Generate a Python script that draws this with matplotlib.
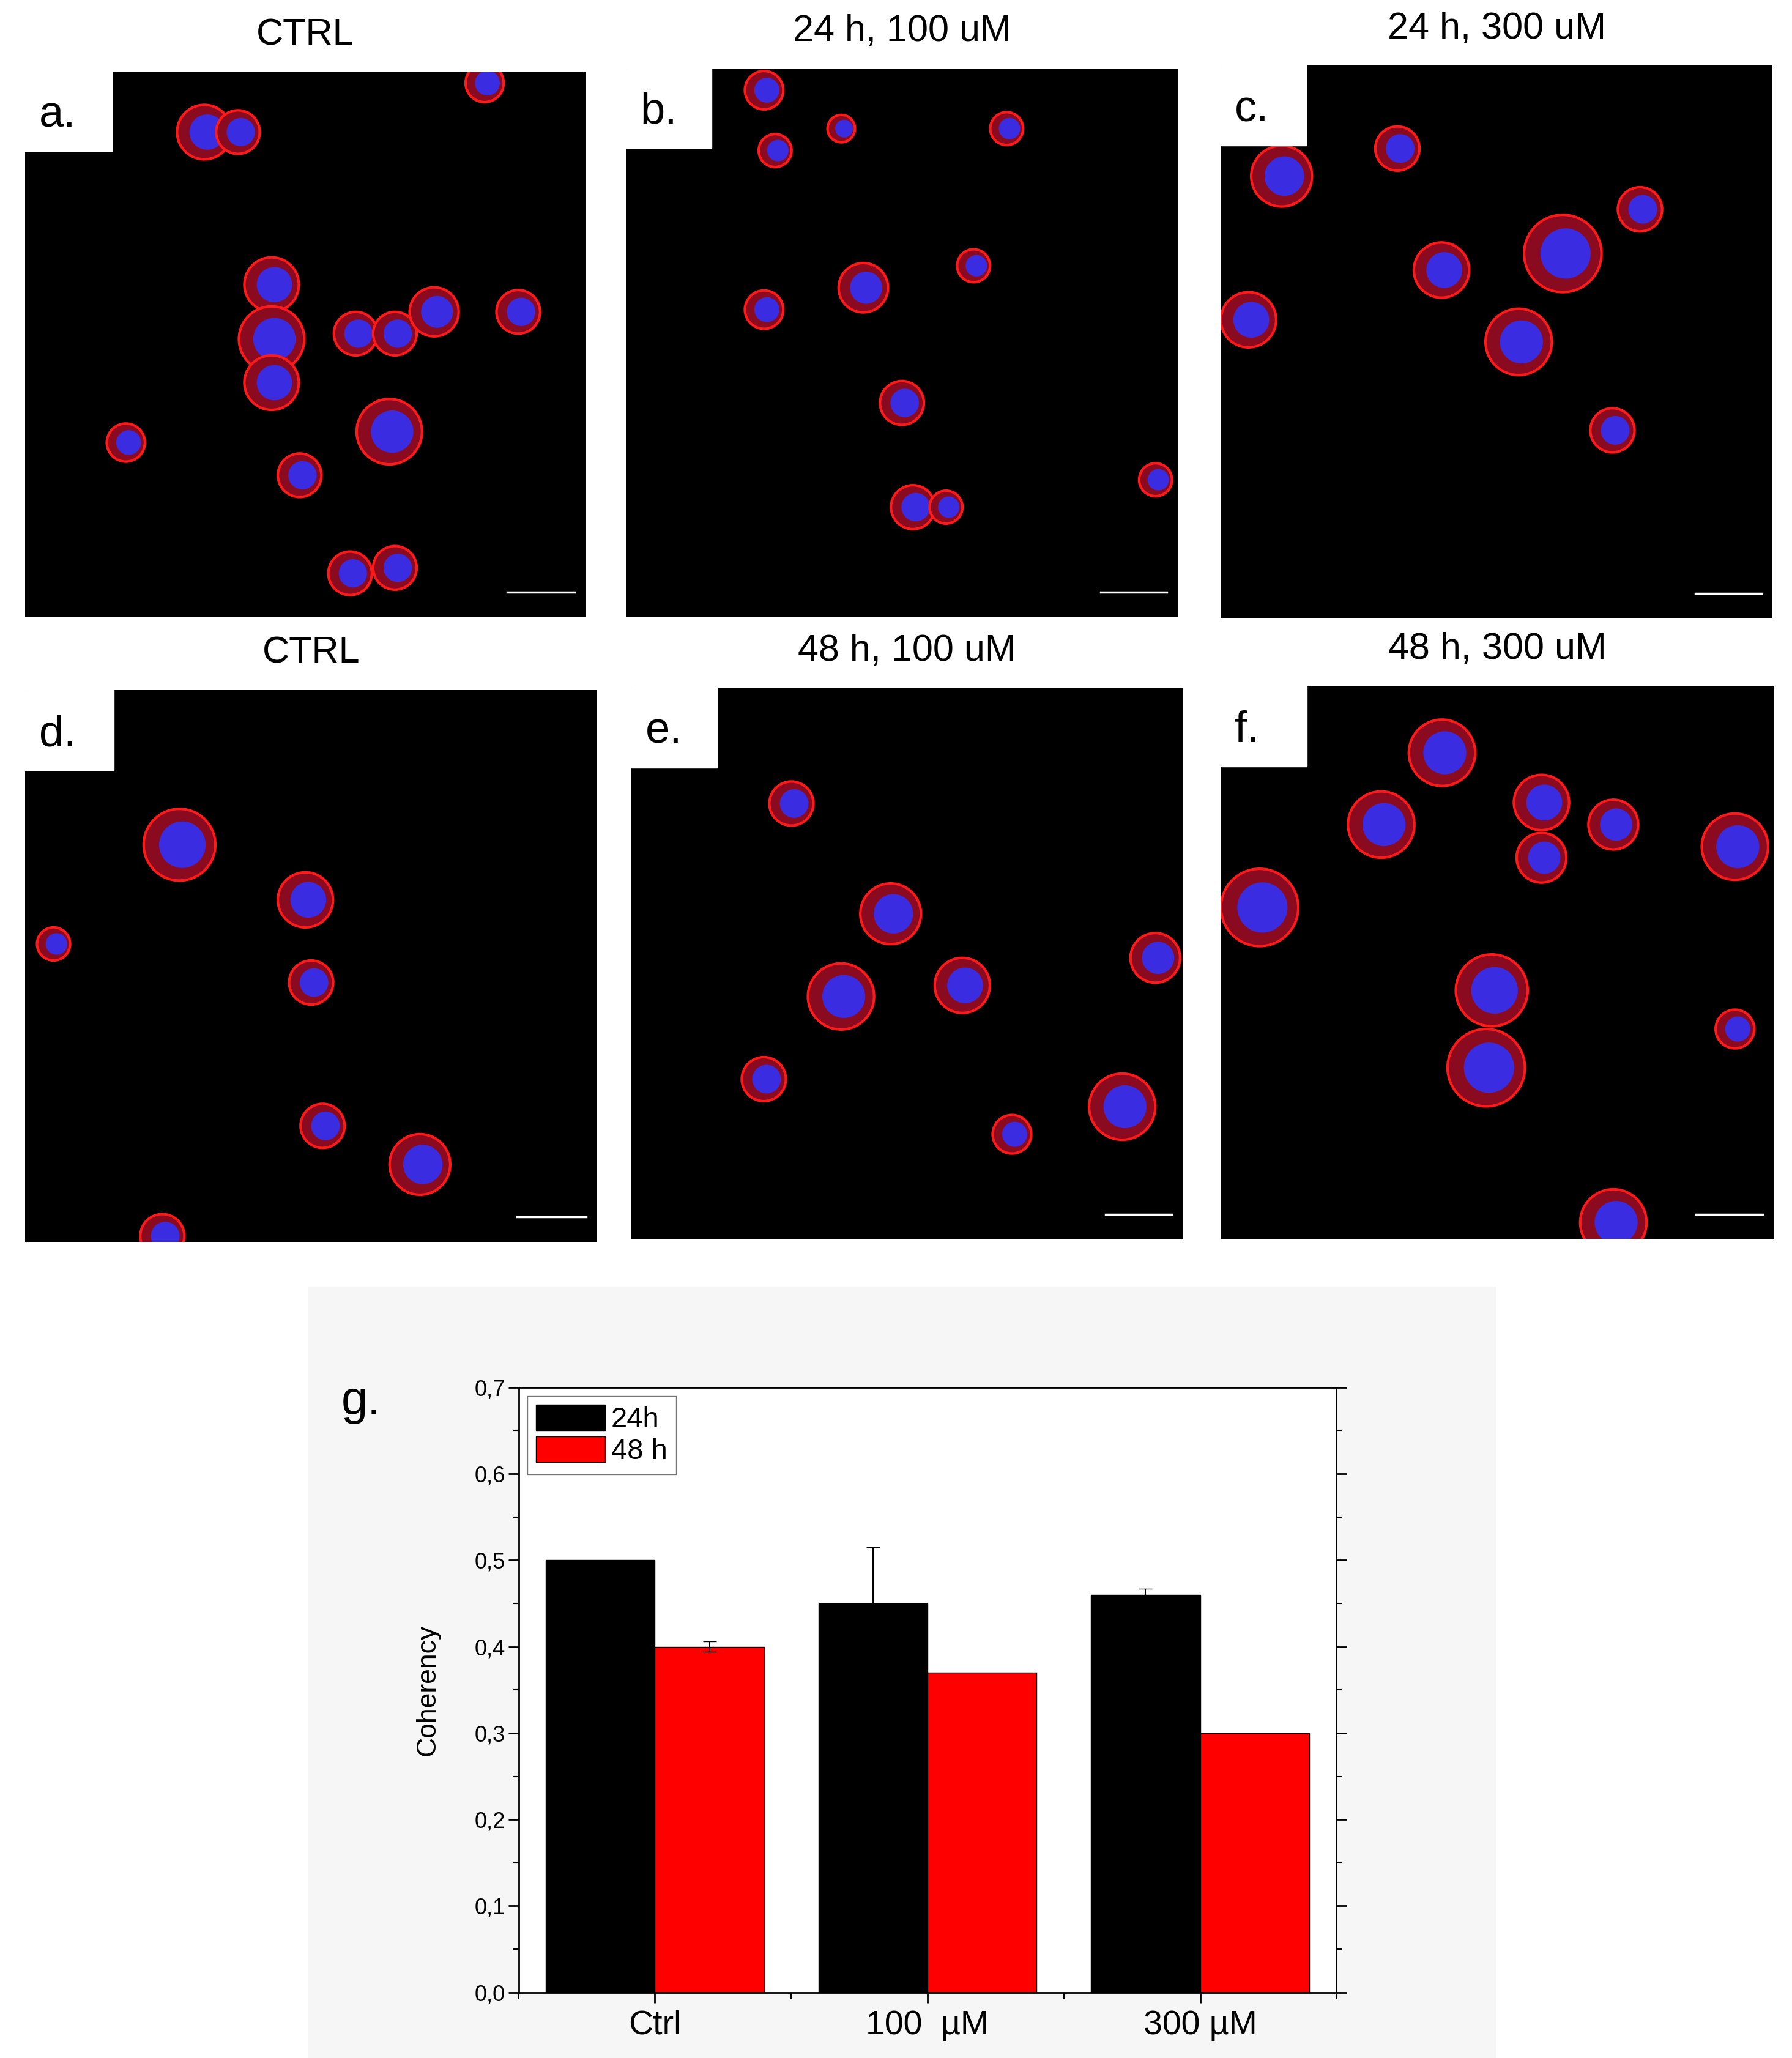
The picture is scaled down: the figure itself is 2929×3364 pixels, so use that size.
import matplotlib.pyplot as plt
from matplotlib.patches import Rectangle, Ellipse
from matplotlib.ticker import MultipleLocator, FuncFormatter

plt.rcParams["font.family"] = ["Liberation Sans", "DejaVu Sans"]

# bar chart data
groups = ["Ctrl", "100  µM", "300 µM"]
coh_24h = [0.50, 0.45, 0.46]
err_24h = [0.0, 0.065, 0.007]
coh_48h = [0.40, 0.37, 0.30]
err_48h = [0.006, 0.0, 0.0]

# microscopy panels
panel_letters = ["a.", "b.", "c.", "d.", "e.", "f."]
panel_titles = ["CTRL", "24 h, 100 uM", "24 h, 300 uM",
                "CTRL", "48 h, 100 uM", "48 h, 300 uM"]
# panel boxes in reference pixels (left, top, right, bottom), figure 1365 x 1568
panel_boxes = [(19, 55, 446, 470), (477, 52, 897, 470), (930, 50, 1350, 471),
               (19, 526, 455, 946), (481, 524, 901, 944), (930, 523, 1351, 944)]
# approximate cells: (x, y, radius) in panel fractions, y from top
cells = [
    [(0.32, 0.11, 0.05), (0.38, 0.11, 0.04), (0.44, 0.39, 0.05), (0.44, 0.49, 0.06),
     (0.44, 0.57, 0.05), (0.59, 0.48, 0.04), (0.66, 0.48, 0.04), (0.73, 0.44, 0.045),
     (0.88, 0.44, 0.04), (0.18, 0.68, 0.035), (0.65, 0.66, 0.06), (0.49, 0.74, 0.04),
     (0.58, 0.92, 0.04), (0.66, 0.91, 0.04), (0.82, 0.02, 0.035)],
    [(0.25, 0.04, 0.035), (0.27, 0.15, 0.03), (0.39, 0.11, 0.025), (0.69, 0.11, 0.03),
     (0.25, 0.44, 0.035), (0.43, 0.40, 0.045), (0.63, 0.36, 0.03), (0.50, 0.61, 0.04),
     (0.52, 0.80, 0.04), (0.58, 0.80, 0.03), (0.96, 0.75, 0.03)],
    [(0.11, 0.20, 0.055), (0.32, 0.15, 0.04), (0.40, 0.37, 0.05), (0.62, 0.34, 0.07),
     (0.54, 0.50, 0.06), (0.76, 0.26, 0.04), (0.05, 0.46, 0.05), (0.71, 0.66, 0.04)],
    [(0.02, 0.04, 0.03), (0.27, 0.28, 0.065), (0.49, 0.38, 0.05), (0.50, 0.53, 0.04),
     (0.52, 0.79, 0.04), (0.69, 0.86, 0.055), (0.24, 0.99, 0.04), (0.05, 0.46, 0.03)],
    [(0.29, 0.21, 0.04), (0.47, 0.41, 0.055), (0.38, 0.56, 0.06), (0.60, 0.54, 0.05),
     (0.95, 0.49, 0.045), (0.24, 0.71, 0.04), (0.69, 0.81, 0.035), (0.89, 0.76, 0.06)],
    [(0.40, 0.12, 0.06), (0.29, 0.25, 0.06), (0.58, 0.21, 0.05), (0.58, 0.31, 0.045),
     (0.71, 0.25, 0.045), (0.93, 0.29, 0.06), (0.07, 0.40, 0.07), (0.49, 0.55, 0.065),
     (0.48, 0.69, 0.07), (0.93, 0.62, 0.035), (0.71, 0.97, 0.06)],
]

W, H = 1365.0, 1568.0
fig = plt.figure(figsize=(29.29, 33.64), dpi=100)

# light grey backdrop behind chart
bg = fig.add_axes([235 / W, 0, (1140 - 235) / W, (1568 - 980) / H], zorder=-5)
bg.axis("off")
bg.add_patch(Rectangle((0, 0), 1, 1, color="#f6f6f6", transform=bg.transAxes))

for box, letter, title, cl in zip(panel_boxes, panel_letters, panel_titles, cells):
    l, t, r, b = box
    ax = fig.add_axes([l / W, 1 - b / H, (r - l) / W, (b - t) / H])
    ax.set_facecolor("black")
    ax.set_xlim(0, 1)
    ax.set_ylim(1, 0)
    ax.set_xticks([])
    ax.set_yticks([])
    for s in ax.spines.values():
        s.set_visible(False)
    asp = (b - t) / (r - l)
    for cx, cy, rad in cl:
        ax.add_patch(Ellipse((cx, cy), 2 * rad * asp, 2 * rad, facecolor="#8a0a20",
                             edgecolor="#ff1a1a", lw=3))
        ax.add_patch(Ellipse((cx + 0.005, cy), 1.3 * rad * asp, 1.3 * rad,
                             facecolor="#3a2ce0", edgecolor="none"))
    ax.add_patch(Rectangle((0, 0), 0.155, 0.145, color="white"))
    ax.text(0.025, 0.08, letter, fontsize=52, va="center", ha="left")
    ax.plot([0.86, 0.98], [0.955, 0.955], color="white", lw=2.5)
    fig.text((l + r) / 2 / W, 1 - (t - 28) / H, title, fontsize=44, ha="center", va="center")

# bar chart
ax = fig.add_axes([395 / W, 1 - 1518 / H, (1018 - 395) / W, (1518 - 1057) / H])
x = [1, 2, 3]
bw = 0.4
x24 = [v - bw / 2 for v in x]
x48 = [v + bw / 2 for v in x]
ax.bar(x24, coh_24h, bw, color="black", edgecolor="black", label="24h", zorder=2)
ax.bar(x48, coh_48h, bw, color="#ff0000", edgecolor="black", label="48 h", zorder=2)
for xs, ys, es in [(x24, coh_24h, err_24h), (x48, coh_48h, err_48h)]:
    for xi, yi, ei in zip(xs, ys, es):
        if ei > 0:
            ax.errorbar(xi, yi, yerr=ei, ecolor="black", capsize=8, lw=1.5, fmt="none", zorder=3)
ax.set_xlim(0.5, 3.5)
ax.set_ylim(0, 0.7)
ax.set_xticks(x)
ax.set_xticklabels(groups, fontsize=40)
ax.xaxis.set_minor_locator(MultipleLocator(0.5))
ax.yaxis.set_major_locator(MultipleLocator(0.1))
ax.yaxis.set_minor_locator(MultipleLocator(0.05))
ax.yaxis.set_major_formatter(FuncFormatter(lambda v, p: f"{v:.1f}".replace(".", ",")))
ax.tick_params(axis="y", labelsize=26, length=12, width=2, right=True)
ax.tick_params(axis="y", which="minor", length=7, width=1.5, right=True)
ax.tick_params(axis="x", length=12, width=2, top=False, pad=8)
ax.tick_params(axis="x", which="minor", length=7, width=1.5, top=False)
ax.set_ylabel("Coherency", fontsize=32, labelpad=40)
for s in ax.spines.values():
    s.set_linewidth(2)
ax.set_facecolor("white")
ax.legend(loc="upper left", fontsize=34, frameon=True, fancybox=False, edgecolor="#555555",
          handlelength=2.4, handleheight=1.0, borderaxespad=0.3, labelspacing=0.1,
          borderpad=0.3, handletextpad=0.2)
fig.text(260 / W, 1 - 1068 / H, "g.", fontsize=56, va="center")

fig.savefig("out.png", dpi=100)
